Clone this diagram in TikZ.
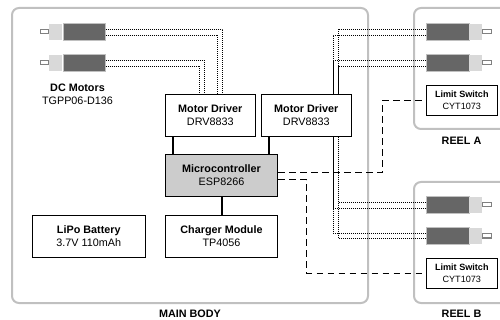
\documentclass[tikz,border=0pt]{standalone}
\usepackage{fontspec}
\setmainfont{Liberation Sans}
\definecolor{frame}{HTML}{C0C0C0}
\definecolor{darkmotor}{HTML}{666666}
\definecolor{lightmotor}{HTML}{D9D9D9}
\definecolor{mcu}{HTML}{CCCCCC}
\tikzset{
  x=1pt,y=-1pt,
  housing/.style={draw=frame,line width=2pt,rounded corners=7pt},
  blockbox/.style={draw=black,line width=1pt,fill=white,inner sep=0pt,align=center,font=\fontsize{10.8}{13}\selectfont},
  switchbox/.style={draw=black,line width=1pt,fill=white,inner sep=0pt,align=center,font=\fontsize{9.1}{11.3}\selectfont,minimum width=71.5pt,minimum height=30pt},
  labeltext/.style={inner sep=0pt,align=center,font=\fontsize{10.8}{13}\selectfont},
  motorbody/.style={fill=darkmotor,draw=frame,line width=0.5pt,inner sep=0pt,minimum width=42.5pt,minimum height=16.5pt},
  motorhead/.style={fill=lightmotor,inner sep=0pt,minimum width=13pt,minimum height=16.5pt},
  motorshaft/.style={fill=white,draw=black!50,line width=1pt,inner sep=0pt,minimum width=8.5pt,minimum height=4pt},
  wire/.style={draw=black,line width=0.8pt,dash pattern=on 1pt off 1pt},
  powerline/.style={draw=black,line width=2pt},
  signal/.style={draw=black,line width=1pt,dash pattern=on 6.5pt off 4.5pt},
}
\begin{document}
\begin{tikzpicture}
\useasboundingbox (0,0) rectangle (500,320);
% housings
\draw[housing] (12,8) rectangle (368,303);
\draw[housing] (500,8) -- (414,8) -- (414,129) -- (500,129);
\draw[housing] (500,182) -- (414,182) -- (414,303) -- (500,303);
% motors left
\node[motorbody] (ml1) at (84,32) {};
\node[motorhead,anchor=east] (hl1) at (ml1.west) {};
\node[motorshaft,anchor=east] (sl1) at (hl1.west) {};
\node[motorbody] (ml2) at (84,63) {};
\node[motorhead,anchor=east] (hl2) at (ml2.west) {};
\node[motorshaft,anchor=east] (sl2) at (hl2.west) {};
% motors reel A
\node[motorbody] (ma1) at (447.5,32) {};
\node[motorhead,anchor=west] (ha1) at (ma1.east) {};
\node[motorshaft,anchor=west] (sa1) at (ha1.east) {};
\node[motorbody] (ma2) at (447.5,63) {};
\node[motorhead,anchor=west] (ha2) at (ma2.east) {};
\node[motorshaft,anchor=west] (sa2) at (ha2.east) {};
% motors reel B
\node[motorbody] (mb1) at (447.5,205) {};
\node[motorhead,anchor=west] (hb1) at (mb1.east) {};
\node[motorshaft,anchor=west] (sb1) at (hb1.east) {};
\node[motorbody] (mb2) at (447.5,236) {};
\node[motorhead,anchor=west] (hb2) at (mb2.east) {};
\node[motorshaft,anchor=west] (sb2) at (hb2.east) {};
% named coordinates for driver terminals
\coordinate (dr1a) at (222.5,94);
\coordinate (dr1b) at (217,94);
\coordinate (dr1c) at (204,94);
\coordinate (dr1d) at (199,94);
\coordinate (dr2a) at (338,94);
\coordinate (dr2b) at (333,94);
\coordinate (dr2c) at (338,136);
\coordinate (dr2d) at (333,136);
% wires
\draw[wire] ([yshift=2.5pt]ml1.east) -| (dr1a);
\draw[wire] ([yshift=-3pt]ml1.east) -| (dr1b);
\draw[wire] ([yshift=2.5pt]ml2.east) -| (dr1c);
\draw[wire] ([yshift=-3pt]ml2.east) -| (dr1d);
\draw[wire] ([yshift=2.5pt]ma1.west) -| (dr2a);
\draw[wire] ([yshift=-3pt]ma1.west) -| (dr2b);
\draw[wire] ([yshift=2.5pt]ma2.west) -| (dr2b);
\draw[wire] ([yshift=-3pt]ma2.west) -| (dr2a);
\draw[wire] ([yshift=2.5pt]mb1.west) -| (dr2c);
\draw[wire] ([yshift=-3pt]mb1.west) -| (dr2d);
\draw[wire] ([yshift=2.5pt]mb2.west) -| (dr2d);
\draw[wire] ([yshift=-2.5pt]mb2.west) -| (dr2c);
% blocks
\node[blockbox,minimum width=90pt,minimum height=42.3pt] (d1) at (210.3,115.2) {\textbf{Motor Driver}\\DRV8833};
\node[blockbox,minimum width=90pt,minimum height=42.3pt] (d2) at (306.3,115.2) {\textbf{Motor Driver}\\DRV8833};
\node[blockbox,fill=mcu,minimum width=112.4pt,minimum height=42.4pt] (mc) at (221.5,175.5) {\textbf{Microcontroller}\\ESP8266};
\node[blockbox,minimum width=112.4pt,minimum height=42.3pt] (ch) at (221.5,236.2) {\textbf{Charger Module}\\TP4056};
\node[blockbox,minimum width=113pt,minimum height=42.3pt] (bat) at (88.8,236.2) {\textbf{LiPo Battery}\\3.7V 110mAh};
\node[switchbox] (la) at (461.8,100.2) {\textbf{Limit Switch}\\CYT1073};
\node[switchbox] (lb) at (461.8,273.3) {\textbf{Limit Switch}\\CYT1073};
% connectors
\draw[powerline] (d1.south -| 173,0) -- (mc.north -| 173,0);
\draw[powerline] (d2.south -| 269.3,0) -- (mc.north -| 269.3,0);
\draw[powerline] (mc.south) -- (ch.north);
\draw[signal] ([yshift=3.2pt]mc.east) -| (382.7,150) |- (la.west);
\draw[signal] ([yshift=-4.2pt]mc.east) -| (306.7,230) |- (lb.west);
% labels
\node[labeltext] (lm) at (77.5,94.5) {\textbf{DC Motors}\\TGPP06-D136};
\node[labeltext] (lmain) at (190,314) {\textbf{MAIN BODY}};
\node[labeltext] (lra) at (461.5,141) {\textbf{REEL A}};
\node[labeltext] (lrb) at (461.5,314) {\textbf{REEL B}};
\end{tikzpicture}
\end{document}
